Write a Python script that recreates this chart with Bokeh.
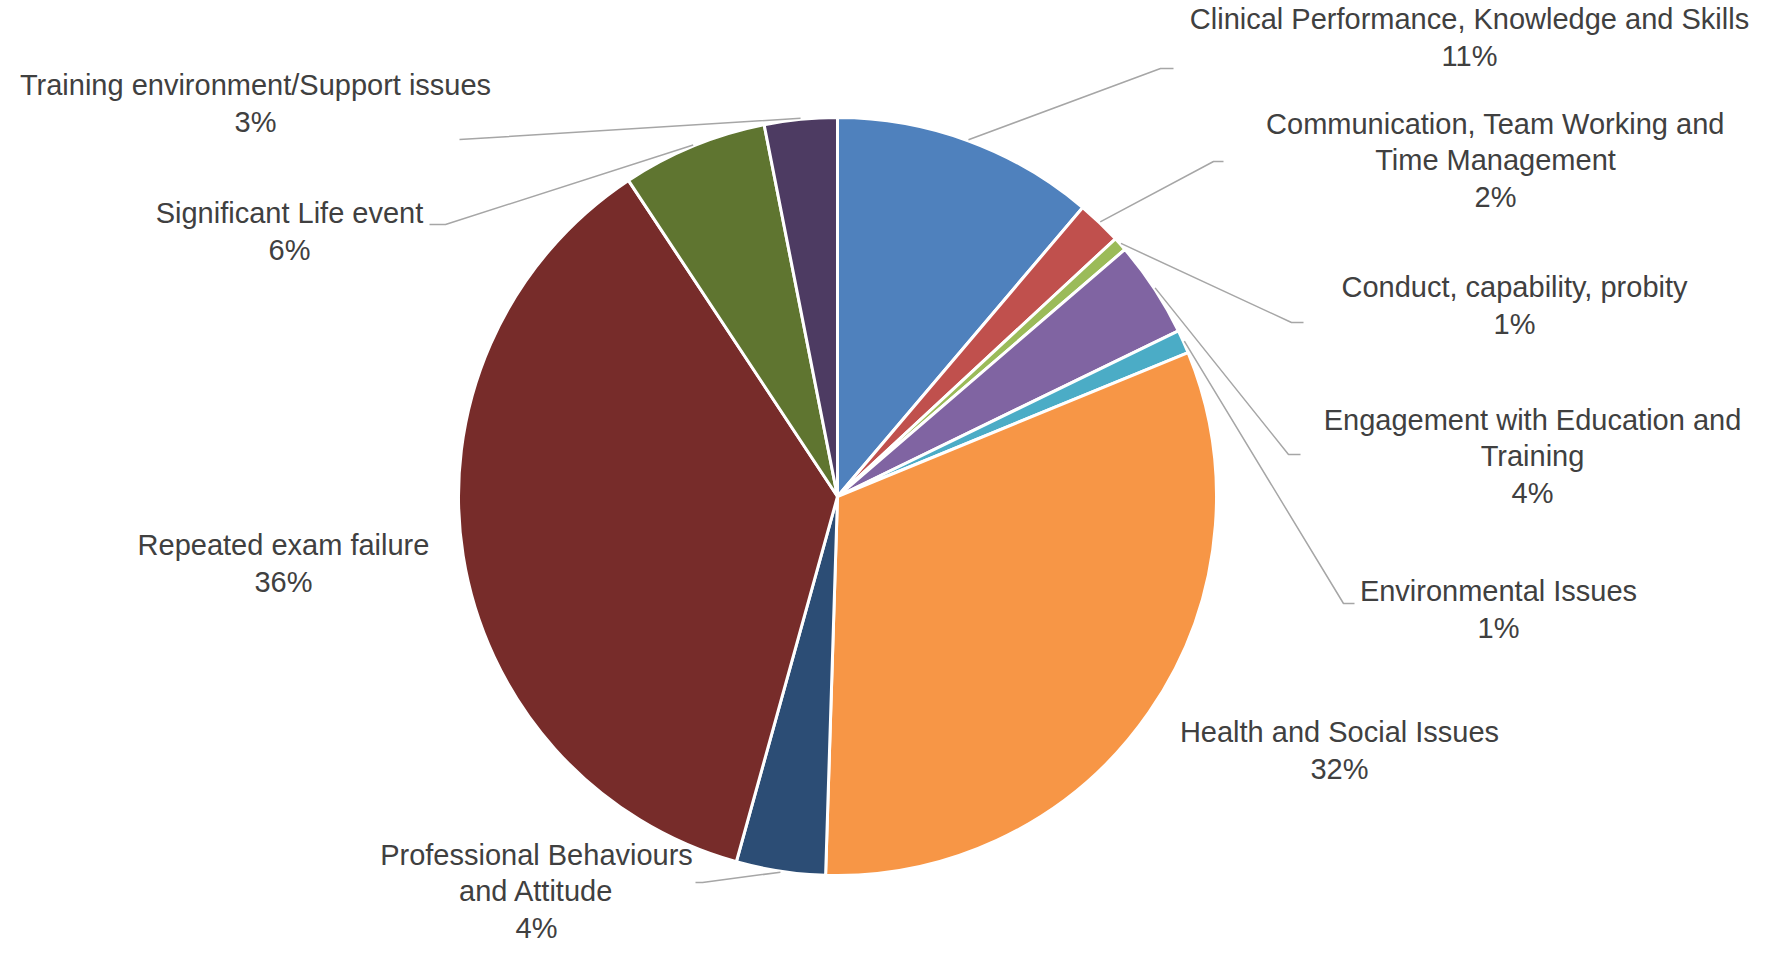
import math
from bokeh.plotting import figure
from bokeh.models import Range1d
from bokeh.core.properties import value
from bokeh.embed import file_html
from bokeh.resources import INLINE

# ---- data ----
categories = [
    "Clinical Performance, Knowledge and Skills",
    "Communication, Team Working and\nTime Management",
    "Conduct, capability, probity",
    "Engagement with Education and\nTraining",
    "Environmental Issues",
    "Health and Social Issues",
    "Professional Behaviours\nand Attitude",
    "Repeated exam failure",
    "Significant Life event",
    "Training environment/Support issues",
]
shares = [11.2, 1.9, 0.6, 4.1, 1.0, 31.7, 3.8, 36.4, 6.2, 3.1]
colors = ["#4F81BD", "#C0504D", "#9BBB59", "#8064A2", "#4BACC6",
          "#F79646", "#2C4D75", "#772C2A", "#5F7530", "#4D3B62"]

# ---- layout (pixel coordinates of the picture) ----
W, H = 1753, 943
PAGE_H = 959
CX, CY, R = 837, 496, 379
label_pos = [(1469, 37), (1495, 160), (1514, 305), (1532, 456), (1498, 609),
             (1339, 750), (536, 891), (283, 563), (289, 231), (255, 103)]
# leader elbows: (elbow_x, elbow_y, end_x, end_y) or None
leaders = [(1160, 68, 1173, 68), (1213, 161, 1223, 161), (1291, 322, 1303, 322),
           (1288, 454, 1300, 454), (1343, 603, 1354, 603), None,
           (702, 882, 695, 882), None, (445, 224, 429, 224), (476, 138, 459, 139)]


def fy(y):
    return PAGE_H - y


p = figure(width=W, height=H, output_backend="svg", toolbar_location=None,
           x_range=Range1d(0, W), y_range=Range1d(PAGE_H - H, PAGE_H),
           min_border=0, outline_line_color=None)
p.axis.visible = False
p.grid.visible = False
p.background_fill_color = "white"
p.border_fill_color = "white"

total = sum(shares)
starts, ends, mids = [], [], []
cum = 0.0
for v in shares:
    f0 = cum / total
    cum += v
    f1 = cum / total
    starts.append(math.pi / 2 - 2 * math.pi * f0)
    ends.append(math.pi / 2 - 2 * math.pi * f1)
    mids.append((f0 + f1) / 2)

p.wedge(x=[CX] * len(shares), y=[fy(CY)] * len(shares), radius=R,
        start_angle=starts, end_angle=ends, direction="clock",
        fill_color=colors, line_color="white", line_width=3, line_join="round")

xs, ys = [], []
for m, ld in zip(mids, leaders):
    if ld is None:
        continue
    a = 2 * math.pi * m
    sx = CX + (R + 1) * math.sin(a)
    sy = CY - (R + 1) * math.cos(a)
    xs.append([sx, ld[0], ld[2]])
    ys.append([fy(sy), fy(ld[1]), fy(ld[3])])
p.multi_line(xs=xs, ys=ys, line_color="#A6A6A6", line_width=1.5)

texts = [f"{c}\n{round(v)}%" for c, v in zip(categories, shares)]
p.text(x=[lp[0] for lp in label_pos], y=[fy(lp[1]) for lp in label_pos], text=texts,
       text_align="center", text_baseline="middle", text_font=value("Liberation Sans"),
       text_font_size="29px", text_color="#404040", text_line_height=1.15)

open("out.html", "w").write(file_html(p, INLINE))
